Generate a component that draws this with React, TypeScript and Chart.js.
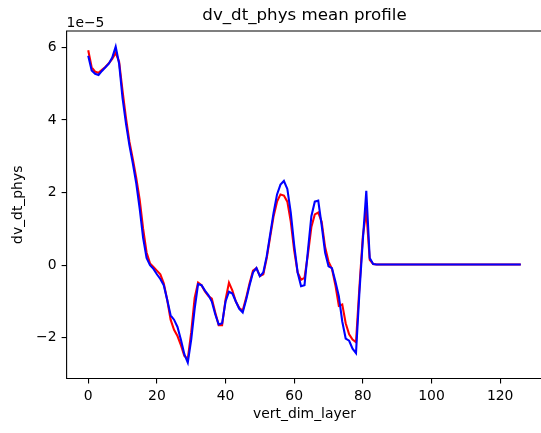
import React, { useEffect, useRef } from "react";
import { Chart, registerables } from "chart.js";

Chart.register(...registerables);

// vertical layer indices 0..126
const layers: number[] = Array.from({ length: 127 }, (_, i) => i);

// values in units of 1e-5
const redValues: number[] = [
  5.92, 5.45, 5.33, 5.3, 5.38, 5.46, 5.56, 5.68, 5.85, 5.6,
  4.8, 4.05, 3.4, 2.92, 2.4, 1.8, 1.0, 0.35, 0.05, -0.05,
  -0.15, -0.25, -0.5, -0.95, -1.5, -1.78, -1.95, -2.2, -2.5, -2.58,
  -1.85, -0.9, -0.48, -0.55, -0.72, -0.85, -0.92, -1.3, -1.65, -1.65,
  -0.95, -0.48, -0.7, -1.0, -1.18, -1.25, -0.9, -0.5, -0.15, -0.08,
  -0.3, -0.25, 0.2, 0.78, 1.35, 1.75, 1.95, 1.92, 1.75, 1.2,
  0.4, -0.2, -0.4, -0.35, 0.3, 1.05, 1.4, 1.45, 1.2, 0.5,
  0.1, -0.1, -0.55, -1.12, -1.08, -1.6, -1.9, -2.05, -2.12, -0.6,
  0.8, 1.5, 0.15, 0.03, 0.02, 0.02, 0.02, 0.02, 0.02, 0.02,
  0.02, 0.02, 0.02, 0.02, 0.02, 0.02, 0.02, 0.02, 0.02, 0.02,
  0.02, 0.02, 0.02, 0.02, 0.02, 0.02, 0.02, 0.02, 0.02, 0.02,
  0.02, 0.02, 0.02, 0.02, 0.02, 0.02, 0.02, 0.02, 0.02, 0.02,
  0.02, 0.02, 0.02, 0.02, 0.02, 0.02, 0.02,
];

const blueValues: number[] = [
  5.77, 5.36, 5.27, 5.24, 5.35, 5.45, 5.55, 5.72, 6.02, 5.55,
  4.6, 3.9, 3.3, 2.8, 2.25, 1.55, 0.75, 0.2, 0.0, -0.1,
  -0.25, -0.38, -0.55, -0.95, -1.38, -1.5, -1.7, -2.05, -2.45, -2.68,
  -2.05, -1.2, -0.52, -0.55, -0.7, -0.82, -1.0, -1.35, -1.63, -1.6,
  -1.0, -0.73, -0.78, -1.0, -1.2, -1.3, -0.95, -0.55, -0.2, -0.08,
  -0.3, -0.2, 0.25, 0.85, 1.45, 1.95, 2.22, 2.32, 2.1, 1.45,
  0.55, -0.2, -0.58, -0.55, 0.4, 1.35, 1.75, 1.78, 1.1, 0.35,
  -0.03, -0.08, -0.45, -0.85, -1.55, -2.02, -2.08, -2.3, -2.42, -0.75,
  0.7, 2.05, 0.2, 0.03, 0.02, 0.02, 0.02, 0.02, 0.02, 0.02,
  0.02, 0.02, 0.02, 0.02, 0.02, 0.02, 0.02, 0.02, 0.02, 0.02,
  0.02, 0.02, 0.02, 0.02, 0.02, 0.02, 0.02, 0.02, 0.02, 0.02,
  0.02, 0.02, 0.02, 0.02, 0.02, 0.02, 0.02, 0.02, 0.02, 0.02,
  0.02, 0.02, 0.02, 0.02, 0.02, 0.02, 0.02,
];

const xTicks: number[] = [0, 20, 40, 60, 80, 100, 120];
const yTicks: number[] = [-2, 0, 2, 4, 6];

const titleText = "dv_dt_phys mean profile";
const xTitle = "vert_dim_layer";
const yTitle = "dv_dt_phys";
const offsetText = "1e\u22125";

const FONT = "'DejaVu Sans', sans-serif";

const framePlugin = {
  id: "frame",
  afterDraw(chart: any) {
    const { ctx, chartArea } = chart;
    const { left, top, bottom } = chartArea;
    const right = chart.width;
    ctx.save();
    ctx.strokeStyle = "#000";
    ctx.lineWidth = 1.1;
    ctx.beginPath();
    ctx.moveTo(right, top);
    ctx.lineTo(left, top);
    ctx.lineTo(left, bottom);
    ctx.lineTo(right, bottom);
    ctx.stroke();
    ctx.fillStyle = "#000";
    ctx.font = `13.9px ${FONT}`;
    ctx.textAlign = "left";
    ctx.textBaseline = "alphabetic";
    ctx.fillText(offsetText, left, top - 4);
    ctx.restore();
  },
};

export default function App() {
  const ref = useRef<HTMLCanvasElement | null>(null);

  useEffect(() => {
    document.body.style.margin = "0";
    const canvas = ref.current;
    if (!canvas) return;
    const tickFont = { family: FONT, size: 13.9 };
    const chart = new Chart(canvas, {
      type: "line",
      data: {
        datasets: [
          {
            label: "red",
            data: layers.map((x, i) => ({ x, y: redValues[i] })),
            borderColor: "#ff0000",
            borderWidth: 2.08,
            pointRadius: 0,
            fill: false,
            tension: 0,
            order: 2,
          },
          {
            label: "blue",
            data: layers.map((x, i) => ({ x, y: blueValues[i] })),
            borderColor: "#0000ff",
            borderWidth: 2.08,
            pointRadius: 0,
            fill: false,
            tension: 0,
            order: 1,
          },
        ],
      },
      options: {
        animation: false,
        responsive: false,
        devicePixelRatio: 1,
        layout: { padding: { left: 0, right: 17.6, top: 0, bottom: 0 } },
        plugins: {
          legend: { display: false },
          tooltip: { enabled: false },
          title: {
            display: true,
            text: titleText,
            color: "#000",
            fullSize: false,
            font: { family: FONT, size: 16.67, weight: "normal" },
            padding: { top: 6, bottom: 5 },
          },
        },
        scales: {
          x: {
            type: "linear",
            min: -6.3,
            max: 132.3,
            afterFit: (s: any) => {
              s.height = 54.5;
            },
            afterBuildTicks: (s: any) => {
              s.ticks = xTicks.map((v) => ({ value: v }));
            },
            grid: {
              drawOnChartArea: false,
              drawTicks: true,
              tickLength: 5,
              color: "#000",
              lineWidth: 1.1,
            },
            border: { display: false },
            ticks: {
              color: "#000",
              font: tickFont,
              padding: 5,
              maxRotation: 0,
              autoSkip: false,
              callback: (v: any) => String(v),
            },
            title: {
              display: true,
              text: xTitle,
              color: "#000",
              font: tickFont,
              padding: { top: 0, bottom: 10 },
            },
          },
          y: {
            type: "linear",
            min: -3.12,
            max: 6.45,
            afterFit: (s: any) => {
              s.width = 66.6;
            },
            afterBuildTicks: (s: any) => {
              s.ticks = yTicks.map((v) => ({ value: v }));
            },
            grid: {
              drawOnChartArea: false,
              drawTicks: true,
              tickLength: 5,
              color: "#000",
              lineWidth: 1.1,
            },
            border: { display: false },
            ticks: {
              color: "#000",
              font: tickFont,
              padding: 5,
              callback: (v: any) =>
                Number(v) < 0 ? "\u2212" + Math.abs(Number(v)) : String(v),
            },
            title: {
              display: true,
              text: yTitle,
              color: "#000",
              font: tickFont,
              padding: { top: 10, bottom: 0 },
            },
          },
        },
      } as any,
      plugins: [framePlugin],
    });
    return () => chart.destroy();
  }, []);

  return (
    <div
      style={{
        position: "fixed",
        left: 0,
        top: 0,
        width: 541,
        height: 433,
        overflow: "hidden",
        background: "#fff",
      }}
    >
      <canvas ref={ref} width={560} height={433} style={{ display: "block" }} />
    </div>
  );
}
